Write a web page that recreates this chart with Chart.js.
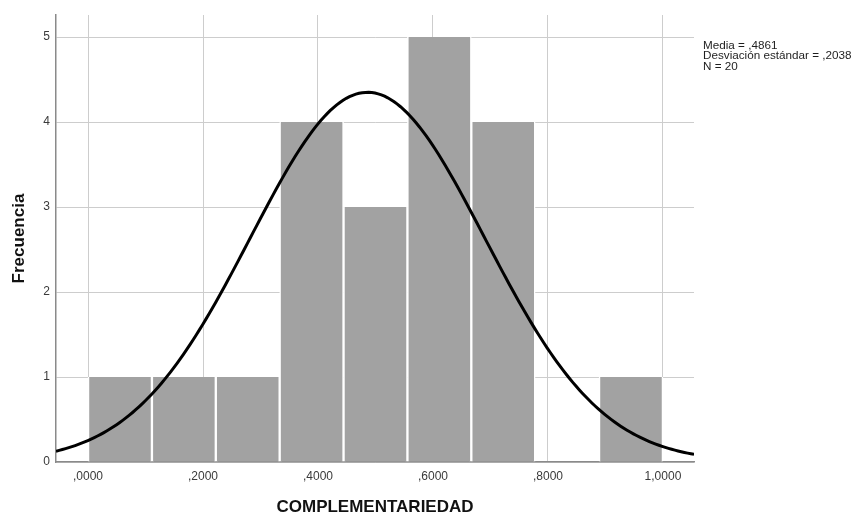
<!DOCTYPE html>
<html>
<head>
<meta charset="utf-8">
<title>Histograma COMPLEMENTARIEDAD</title>
<script src="https://cdn.jsdelivr.net/npm/chart.js@4.4.1/dist/chart.umd.min.js"></script>
<style>
  html, body { margin: 0; padding: 0; background: #ffffff; }
  #wrap { width: 855px; height: 513px; position: relative; }
</style>
</head>
<body>
<div id="wrap"><canvas id="hist" width="855" height="513"></canvas></div>
<script>
// Histogram bins (centres of each class) and their frequencies
const binCenters = [0.0556, 0.1667, 0.2778, 0.3889, 0.5000, 0.6111, 0.7222, 0.8333, 0.9444];
const frequencies = [1, 1, 1, 4, 3, 5, 4, 0, 1];
const binWidth = 1 / 9;

// Summary statistics shown beside the plot
const statMean = 0.4861;
const statSD = 0.2038;
const statN = 20;
const statLines = ['Media = ,4861', 'Desviación estándar = ,2038', 'N = 20'];

// Axis ticks
const xTicks = [0, 0.2, 0.4, 0.6, 0.8, 1.0];
const xTickLabels = [',0000', ',2000', ',4000', ',6000', ',8000', '1,0000'];
const yTicks = [0, 1, 2, 3, 4, 5];
const yTickLabels = ['0', '1', '2', '3', '4', '5'];

const xMin = -0.0557, xMax = 1.054;
const yMax = 5.26;

// Fitted normal curve, scaled to frequency units (N * bin width * density)
const curvePoints = [];
const steps = 200;
for (let i = 0; i <= steps; i++) {
  const x = xMin + (xMax - xMin) * i / steps;
  const z = (x - statMean) / statSD;
  const dens = Math.exp(-0.5 * z * z) / (statSD * Math.sqrt(2 * Math.PI));
  curvePoints.push({ x: x, y: statN * binWidth * dens });
}

const statsText = {
  id: 'statsText',
  afterDraw(chart) {
    const ctx = chart.ctx;
    ctx.save();
    ctx.font = '11.7px "Liberation Sans", Arial, sans-serif';
    ctx.fillStyle = '#1e1e1e';
    ctx.textAlign = 'left';
    ctx.textBaseline = 'alphabetic';
    statLines.forEach((t, i) => ctx.fillText(t, 703, 48.5 + i * 10.8));
    ctx.restore();
  }
};

const tickFont = { family: '"Liberation Sans", Arial, sans-serif', size: 12 };
const titleFont = { family: '"Liberation Sans", Arial, sans-serif', size: 17, weight: 'bold', lineHeight: 1 };

new Chart(document.getElementById('hist'), {
  type: 'bar',
  data: {
    datasets: [
      {
        type: 'line',
        data: curvePoints,
        borderColor: '#000000',
        borderWidth: 3,
        pointRadius: 0,
        tension: 0,
        fill: false,
        order: 0
      },
      {
        type: 'bar',
        data: binCenters.map((c, i) => ({ x: c, y: frequencies[i] })),
        backgroundColor: '#a2a2a2',
        borderColor: '#ffffff',
        borderWidth: { left: 1.5, right: 1.5, top: 0, bottom: 0 },
        borderSkipped: false,
        barPercentage: 1,
        categoryPercentage: 1,
        order: 1
      }
    ]
  },
  options: {
    responsive: false,
    animation: false,
    devicePixelRatio: 1,
    layout: { padding: { left: 0, top: 15, right: 161, bottom: 0 } },
    plugins: {
      legend: { display: false },
      tooltip: { enabled: false }
    },
    scales: {
      x: {
        type: 'linear',
        min: xMin,
        max: xMax,
        offset: false,
        afterFit(scale) { scale.height = 51; },
        afterBuildTicks(scale) { scale.ticks = xTicks.map(v => ({ value: v })); },
        ticks: {
          font: tickFont,
          color: '#3a3a3a',
          padding: 7,
          maxRotation: 0,
          autoSkip: false,
          callback: (v, i) => xTickLabels[i]
        },
        grid: { color: '#cdcdcd', lineWidth: 1, drawTicks: false, offset: false },
        border: { color: '#8a8a8a', width: 1.5 },
        title: {
          display: true,
          text: 'COMPLEMENTARIEDAD',
          font: titleFont,
          color: '#111111',
          padding: { top: 0, bottom: -2.5 }
        }
      },
      y: {
        min: 0,
        max: yMax,
        afterFit(scale) { scale.width = 56; },
        afterBuildTicks(scale) { scale.ticks = yTicks.map(v => ({ value: v })); },
        ticks: {
          font: tickFont,
          color: '#3a3a3a',
          padding: 6,
          autoSkip: false,
          callback: (v, i) => yTickLabels[i]
        },
        grid: { color: '#cdcdcd', lineWidth: 1, drawTicks: false },
        border: { color: '#8a8a8a', width: 1.5 },
        title: {
          display: true,
          text: 'Frecuencia',
          font: titleFont,
          color: '#111111',
          padding: { top: 10.5, bottom: 0 }
        }
      }
    }
  },
  plugins: [statsText]
});
</script>
</body>
</html>
